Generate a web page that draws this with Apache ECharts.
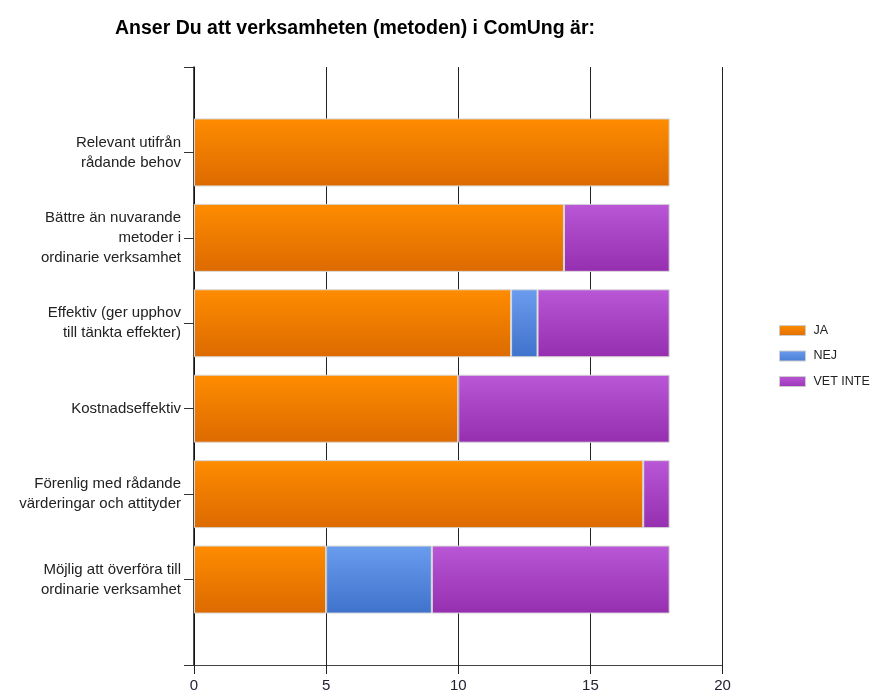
<!DOCTYPE html>
<html>
<head>
<meta charset="utf-8">
<script src="https://cdn.jsdelivr.net/npm/echarts@6/dist/echarts.min.js"></script>
<style>
html,body{margin:0;padding:0;background:#fff;}
#chart{width:875px;height:693px;}
</style>
</head>
<body>
<div id="chart"></div>
<script>
const titleText = 'Anser Du att verksamheten (metoden) i ComUng är:';
const categories = [
  'Relevant utifrån\nrådande behov',
  'Bättre än nuvarande\nmetoder i\nordinarie verksamhet',
  'Effektiv (ger upphov\ntill tänkta effekter)',
  'Kostnadseffektiv',
  'Förenlig med rådande\nvärderingar och attityder',
  'Möjlig att överföra till\nordinarie verksamhet'
];
const seriesNames = ['JA', 'NEJ', 'VET INTE'];
const jaValues = [18, 14, 12, 10, 17, 5];
const nejValues = [0, 0, 1, 0, 0, 4];
const vetInteValues = [0, 4, 5, 8, 1, 9];
const xTicks = [0, 5, 10, 15, 20];

// padded category list (empty slots at top and bottom), drawn top-to-bottom
const cats = [''].concat(categories).concat(['']);
function pad(arr){ return ['-'].concat(arr.map(v => v === 0 ? '-' : v)).concat(['-']); }

function grad(top, bottom){
  return new echarts.graphic.LinearGradient(0,0,0,1,[{offset:0,color:top},{offset:1,color:bottom}]);
}
const colors = [
  grad('#ff8c00', '#dc6a00'),
  grad('#6a9cee', '#3f72cb'),
  grad('#b957d6', '#952fb0')
];
const legendColors = [grad('#ff8c00', '#e06e00'), grad('#6a9cee', '#4a7fd6'), grad('#b957d6', '#9c36b8')];
const dataSets = [jaValues, nejValues, vetInteValues];

const chart = echarts.init(document.getElementById('chart'), null, {renderer:'canvas'});
const font = 'Liberation Sans, Arial, sans-serif';
chart.setOption({
  animation: false,
  backgroundColor: '#fff',
  title: {
    text: titleText,
    left: 110, top: 14,
    textStyle: {fontFamily: font, fontSize: 19.5, fontWeight: 'bold', color: '#000'}
  },
  legend: {
    orient: 'vertical',
    left: 774, top: 319,
    itemWidth: 26, itemHeight: 10, itemGap: 12.5,
    icon: 'rect',
    textStyle: {fontFamily: font, fontSize: 12.5, color: '#222', padding: [0,0,0,3]},
    data: seriesNames.map((n,i) => ({name: n, itemStyle: {color: legendColors[i], borderColor: '#ccc', borderWidth: 1}}))
  },
  grid: {left: 194, right: 152.5, top: 67, bottom: 26, containLabel: false},
  xAxis: {
    type: 'value', min: 0, max: 20, interval: 5,
    axisLine: {show: true, lineStyle: {color: '#444', width: 1}},
    axisTick: {show: true, length: 9, lineStyle: {color: '#222'}},
    axisLabel: {fontFamily: font, fontSize: 15, color: '#223', margin: 13,
      formatter: v => xTicks.indexOf(v) >= 0 ? String(v) : ''},
    splitLine: {show: true, lineStyle: {color: '#222', width: 1}}
  },
  yAxis: {
    type: 'category', data: cats, inverse: true, boundaryGap: false,
    axisLine: {show: true, lineStyle: {color: '#111', width: 1.5}},
    axisTick: {show: true, length: 10, lineStyle: {color: '#333'}},
    axisLabel: {fontFamily: font, fontSize: 15, color: '#222', lineHeight: 20, margin: 13, align: 'right'},
    splitLine: {show: false}
  },
  series: seriesNames.map((n,i) => ({
    name: n, type: 'bar', stack: 'total',
    barWidth: 68,
    data: pad(dataSets[i]),
    itemStyle: {color: colors[i], borderColor: '#d8d8d8', borderWidth: 1},
    emphasis: {disabled: true}
  }))
});
</script>
</body>
</html>
